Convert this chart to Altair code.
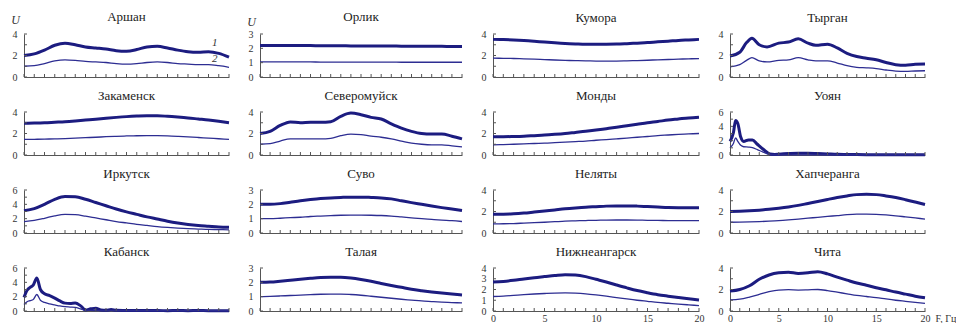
import altair as alt
import pandas as pd

# ---------------- data ----------------
F = list(range(21))

arshan_f = F
arshan_1 = [2.0, 2.15, 2.5, 2.95, 3.15, 3.0, 2.8, 2.7, 2.6, 2.45, 2.4, 2.55, 2.8, 2.85, 2.7, 2.5, 2.35, 2.3, 2.35, 2.2, 1.85]
arshan_2 = [1.0, 1.05, 1.25, 1.5, 1.6, 1.55, 1.45, 1.4, 1.35, 1.25, 1.2, 1.25, 1.35, 1.4, 1.35, 1.25, 1.2, 1.15, 1.15, 1.05, 0.9]

zakamensk_f = F
zakamensk_1 = [2.95, 2.97, 3.0, 3.05, 3.1, 3.17, 3.25, 3.33, 3.42, 3.5, 3.57, 3.62, 3.65, 3.65, 3.6, 3.53, 3.45, 3.35, 3.25, 3.13, 3.0]
zakamensk_2 = [1.45, 1.46, 1.48, 1.5, 1.53, 1.57, 1.61, 1.65, 1.7, 1.74, 1.77, 1.79, 1.8, 1.8, 1.78, 1.74, 1.69, 1.63, 1.57, 1.51, 1.45]

irkutsk_f = F
irkutsk_1 = [3.1, 3.4, 4.0, 4.7, 5.1, 5.05, 4.7, 4.25, 3.8, 3.35, 2.95, 2.6, 2.25, 1.95, 1.65, 1.4, 1.2, 1.05, 0.95, 0.85, 0.8]
irkutsk_2 = [1.6, 1.75, 2.05, 2.4, 2.6, 2.55, 2.35, 2.1, 1.85, 1.6, 1.4, 1.2, 1.05, 0.9, 0.78, 0.68, 0.6, 0.55, 0.5, 0.48, 0.45]

kabansk_f = [0, 0.3, 0.6, 0.9, 1.25, 1.6, 2.0, 2.5, 3.0, 3.5, 4.0, 4.5, 5.0, 5.5, 6.0, 6.5, 7.0, 7.5, 8.0, 8.5, 9, 10, 11, 12, 13, 14, 15, 16, 17, 18, 19, 20]
kabansk_1 = [1.9, 2.9, 3.3, 3.6, 4.6, 3.0, 2.4, 2.15, 1.8, 1.4, 1.1, 1.05, 1.1, 0.75, 0.15, 0.3, 0.4, 0.15, 0.1, 0.2, 0.1, 0.08, 0.06, 0.08, 0.06, 0.05, 0.06, 0.05, 0.06, 0.05, 0.05, 0.05]
kabansk_2 = [0.9, 1.3, 1.45, 1.6, 2.3, 1.5, 1.2, 1.0, 0.85, 0.7, 0.6, 0.55, 0.5, 0.3, 0.08, 0.08, 0.06, 0.05, 0.05, 0.05, 0.04, 0.04, 0.04, 0.04, 0.04, 0.04, 0.04, 0.04, 0.04, 0.04, 0.04, 0.04]

orlik_f = F
orlik_1 = [2.2, 2.2, 2.2, 2.2, 2.19, 2.19, 2.18, 2.18, 2.18, 2.17, 2.17, 2.16, 2.16, 2.16, 2.15, 2.15, 2.15, 2.14, 2.14, 2.13, 2.13]
orlik_2 = [1.05, 1.05, 1.05, 1.05, 1.05, 1.05, 1.04, 1.04, 1.04, 1.04, 1.04, 1.04, 1.04, 1.04, 1.03, 1.03, 1.03, 1.03, 1.03, 1.03, 1.03]

severomuysk_f = F
severomuysk_1 = [2.0, 2.2, 2.75, 3.08, 3.0, 3.05, 3.05, 3.1, 3.6, 3.9, 3.75, 3.5, 3.35, 2.9, 2.5, 2.2, 2.0, 1.95, 1.95, 1.75, 1.5]
severomuysk_2 = [1.0, 1.05, 1.3, 1.5, 1.5, 1.5, 1.5, 1.55, 1.8, 1.95, 1.9, 1.75, 1.65, 1.5, 1.3, 1.1, 1.0, 0.95, 0.95, 0.85, 0.75]

suvo_f = F
suvo_1 = [2.0, 2.0, 2.05, 2.15, 2.25, 2.33, 2.4, 2.45, 2.48, 2.5, 2.5, 2.48, 2.45, 2.38, 2.25, 2.12, 2.0, 1.88, 1.77, 1.67, 1.57]
suvo_2 = [1.0, 1.0, 1.03, 1.07, 1.1, 1.15, 1.18, 1.21, 1.24, 1.25, 1.25, 1.24, 1.22, 1.18, 1.12, 1.06, 1.0, 0.95, 0.9, 0.86, 0.8]

talaya_f = F
talaya_1 = [2.0, 2.02, 2.08, 2.15, 2.22, 2.28, 2.33, 2.35, 2.35, 2.3, 2.2, 2.07, 1.92, 1.78, 1.65, 1.52, 1.42, 1.33, 1.25, 1.18, 1.12]
talaya_2 = [1.0, 1.02, 1.05, 1.08, 1.11, 1.14, 1.17, 1.18, 1.18, 1.15, 1.1, 1.03, 0.96, 0.89, 0.82, 0.76, 0.7, 0.66, 0.62, 0.59, 0.56]

kumora_f = F
kumora_1 = [3.5, 3.48, 3.45, 3.4, 3.33, 3.25, 3.18, 3.12, 3.08, 3.05, 3.05, 3.05, 3.06, 3.1, 3.15, 3.2, 3.27, 3.33, 3.4, 3.45, 3.5]
kumora_2 = [1.75, 1.74, 1.72, 1.69, 1.66, 1.62, 1.58, 1.55, 1.52, 1.5, 1.48, 1.47, 1.48, 1.5, 1.53, 1.56, 1.6, 1.63, 1.66, 1.69, 1.71]

mondy_f = F
mondy_1 = [1.7, 1.7, 1.72, 1.75, 1.8, 1.85, 1.92, 2.0, 2.1, 2.2, 2.32, 2.45, 2.58, 2.72, 2.86, 3.0, 3.12, 3.25, 3.35, 3.45, 3.52]
mondy_2 = [0.95, 0.97, 1.0, 1.03, 1.07, 1.1, 1.15, 1.2, 1.25, 1.3, 1.37, 1.43, 1.5, 1.57, 1.65, 1.72, 1.8, 1.86, 1.92, 1.97, 2.0]

nelyaty_f = F
nelyaty_1 = [1.75, 1.75, 1.78, 1.85, 1.95, 2.05, 2.15, 2.25, 2.33, 2.4, 2.45, 2.5, 2.52, 2.52, 2.5, 2.46, 2.42, 2.38, 2.36, 2.35, 2.35]
nelyaty_2 = [0.85, 0.86, 0.88, 0.92, 0.96, 1.0, 1.05, 1.1, 1.13, 1.16, 1.18, 1.2, 1.21, 1.21, 1.2, 1.18, 1.17, 1.16, 1.15, 1.15, 1.15]

nizhneangarsk_f = F
nizhneangarsk_1 = [2.7, 2.75, 2.85, 2.98, 3.1, 3.2, 3.3, 3.38, 3.35, 3.2, 2.95, 2.7, 2.42, 2.15, 1.9, 1.7, 1.52, 1.38, 1.25, 1.13, 1.03]
nizhneangarsk_2 = [1.35, 1.38, 1.45, 1.52, 1.58, 1.63, 1.67, 1.68, 1.66, 1.6, 1.5, 1.38, 1.25, 1.12, 1.0, 0.9, 0.8, 0.72, 0.64, 0.57, 0.5]

tyrgan_f = [0, 1, 1.7, 2.25, 3, 3.8, 5, 6, 7, 8, 8.8, 10, 11, 12, 13, 14, 15, 16, 17, 18, 19, 20]
tyrgan_1 = [1.95, 2.3, 3.2, 3.6, 3.0, 2.8, 3.15, 3.25, 3.55, 3.15, 2.95, 3.05, 2.7, 2.2, 1.9, 1.75, 1.6, 1.35, 1.15, 1.1, 1.18, 1.2]
tyrgan_2 = [0.95, 1.15, 1.55, 1.8, 1.5, 1.4, 1.55, 1.6, 1.8, 1.6, 1.5, 1.5, 1.3, 1.05, 0.9, 0.85, 0.78, 0.65, 0.55, 0.52, 0.56, 0.58]

uoyan_f = [0, 0.35, 0.57, 0.8, 1.1, 1.4, 1.9, 2.3, 2.8, 3.4, 4.1, 4.6, 5, 6, 7, 8, 9, 10, 11, 12, 13, 14, 15, 16, 17, 18, 19, 20]
uoyan_1 = [1.9, 3.1, 4.8, 4.4, 2.5, 1.9, 2.1, 2.1, 1.5, 0.8, 0.15, 0.08, 0.12, 0.2, 0.25, 0.25, 0.2, 0.15, 0.1, 0.08, 0.06, 0.05, 0.05, 0.05, 0.05, 0.05, 0.05, 0.05]
uoyan_2 = [1.0, 1.6, 2.4, 1.9, 1.35, 1.15, 1.1, 1.02, 0.75, 0.4, 0.06, 0.03, 0.03, 0.03, 0.03, 0.03, 0.03, 0.03, 0.03, 0.03, 0.03, 0.03, 0.03, 0.03, 0.03, 0.03, 0.03, 0.03]

khapcheranga_f = F
khapcheranga_1 = [2.0, 2.02, 2.06, 2.12, 2.2, 2.3, 2.42, 2.57, 2.75, 2.93, 3.12, 3.3, 3.45, 3.57, 3.6, 3.57, 3.45, 3.3, 3.1, 2.88, 2.65]
khapcheranga_2 = [1.0, 1.01, 1.03, 1.06, 1.1, 1.15, 1.22, 1.3, 1.38, 1.46, 1.54, 1.62, 1.7, 1.75, 1.76, 1.74, 1.68, 1.6, 1.5, 1.4, 1.3]

chita_f = F
chita_1 = [1.85, 2.0, 2.35, 2.95, 3.35, 3.55, 3.6, 3.5, 3.55, 3.65, 3.45, 3.15, 2.87, 2.6, 2.4, 2.17, 1.97, 1.76, 1.57, 1.38, 1.24]
chita_2 = [1.03, 1.1, 1.3, 1.55, 1.8, 1.95, 1.98, 1.95, 1.97, 2.0, 1.9, 1.75, 1.6, 1.45, 1.35, 1.25, 1.12, 1.0, 0.9, 0.8, 0.7]

# panel order (row-major, 4 columns)
names = ["Аршан", "Орлик", "Кумора", "Тырган",
         "Закаменск", "Северомуйск", "Монды", "Уоян",
         "Иркутск", "Суво", "Неляты", "Хапчеранга",
         "Кабанск", "Талая", "Нижнеангарск", "Чита"]
series = [
    (arshan_f, arshan_1, arshan_2), (orlik_f, orlik_1, orlik_2),
    (kumora_f, kumora_1, kumora_2), (tyrgan_f, tyrgan_1, tyrgan_2),
    (zakamensk_f, zakamensk_1, zakamensk_2), (severomuysk_f, severomuysk_1, severomuysk_2),
    (mondy_f, mondy_1, mondy_2), (uoyan_f, uoyan_1, uoyan_2),
    (irkutsk_f, irkutsk_1, irkutsk_2), (suvo_f, suvo_1, suvo_2),
    (nelyaty_f, nelyaty_1, nelyaty_2), (khapcheranga_f, khapcheranga_1, khapcheranga_2),
    (kabansk_f, kabansk_1, kabansk_2), (talaya_f, talaya_1, talaya_2),
    (nizhneangarsk_f, nizhneangarsk_1, nizhneangarsk_2), (chita_f, chita_1, chita_2),
]
y_max = [4, 3, 4, 4,
         4, 4, 4, 6,
         6, 3, 4, 4,
         6, 3, 4, 4]
y_labels = {3: [0, 1, 2, 3], 4: [0, 2, 4], 6: [0, 2, 4, 6]}
nizh_labels = [0, 1, 2, 3, 4]
x_labels = [0, 5, 10, 15, 20]
x_ticks = list(range(21))
curve_ids = ["1", "2"]
curve_label_f = [18.6, 18.6]
curve_label_u = [3.15, 1.7]

# ---------------- style ----------------
SERIF = "'Liberation Serif', 'Times New Roman', 'DejaVu Serif', serif"
C1 = "#1c1c80"
C2 = "#2d2d92"
AX = "#555555"
TXT = "#333333"
H = 43
WIDTHS = [205, 202, 206, 195]


def panel(i):
    name = names[i]
    f, u1, u2 = series[i]
    ymax = y_max[i]
    col = i % 4
    row = i // 4
    w = WIDTHS[col]
    yvals = nizh_labels if name == "Нижнеангарск" else y_labels[ymax]
    show_xl = row == 3 and col >= 2
    show_u = row == 0 and col <= 1

    xscale = alt.Scale(domain=[0, 20], nice=False)
    yscale = alt.Scale(domain=[0, ymax], nice=False)

    xaxis_kw = dict(values=x_labels, labels=show_xl, ticks=False, grid=False,
                    domainColor=AX, labelPadding=2)
    if name == "Чита":
        xaxis_kw.update(title="F, Гц", titleX=w + 10, titleY=2, titleAngle=0, titleAlign="left",
                        titleBaseline="top")
    else:
        xaxis_kw.update(title=None)
    yaxis_kw = dict(values=yvals, ticks=False, grid=False, domainColor=AX, labelPadding=7)
    if show_u:
        yaxis_kw.update(title="U", titleAngle=0, titleX=-9, titleY=(-8 if col == 0 else -6),
                        titleAlign="center", titleBaseline="bottom", titleFontSize=12,
                        titleFontStyle="italic")
    else:
        yaxis_kw.update(title=None)
    xax = alt.Axis(**xaxis_kw)
    yax = alt.Axis(**yaxis_kw)

    d = pd.DataFrame({
        "F": list(f) + list(f),
        "U": list(u1) + list(u2),
        "curve": ["1"] * len(f) + ["2"] * len(f),
    })

    lines = alt.Chart(d).mark_line(interpolate="monotone").encode(
        x=alt.X("F:Q", scale=xscale, axis=xax),
        y=alt.Y("U:Q", scale=yscale, axis=yax),
        detail="curve:N",
        color=alt.Color("curve:N", scale=alt.Scale(domain=curve_ids, range=[C1, C2]), legend=None),
        strokeWidth=alt.StrokeWidth("curve:N", scale=alt.Scale(domain=curve_ids, range=[3, 1.3]), legend=None),
    )
    xt = alt.Chart(pd.DataFrame({"F": x_ticks})).mark_rule(color=AX, strokeWidth=1).encode(
        x=alt.X("F:Q", scale=xscale, axis=xax),
        y=alt.value(H), y2=alt.value(H - 3),
    )
    yt = alt.Chart(pd.DataFrame({"U": list(range(ymax + 1))})).mark_rule(color=AX, strokeWidth=1).encode(
        y=alt.Y("U:Q", scale=yscale, axis=yax),
        x=alt.value(0), x2=alt.value(3),
    )
    layers = [lines, xt, yt]
    if name == "Аршан":
        lab = alt.Chart(pd.DataFrame({"F": curve_label_f, "U": curve_label_u, "t": curve_ids})).mark_text(
            font=SERIF, fontSize=11, fontStyle="italic", color=TXT, baseline="middle", align="center"
        ).encode(
            x=alt.X("F:Q", scale=xscale, axis=xax),
            y=alt.Y("U:Q", scale=yscale, axis=yax),
            text="t:N",
        )
        layers.append(lab)
    if show_u:
        off = -11 if col == 0 else -9
    else:
        off = 4
    return alt.layer(*layers).properties(
        width=w, height=H,
        title=alt.TitleParams(text=name, offset=off, frame="group", anchor="middle"),
    )


chart = alt.concat(
    *[panel(i) for i in range(16)],
    columns=4,
    spacing={"row": 35, "column": 31},
    bounds="flush",
    align="each",
).properties(
    padding={"left": 2, "top": 3, "right": 0, "bottom": 0},
    background="white",
).configure_view(
    strokeWidth=0
).configure_axis(
    labelFont=SERIF, labelFontSize=10, labelColor=TXT, titleFont=SERIF, titleFontSize=10,
    titleFontWeight="normal", titleColor=TXT, labelFlush=False
).configure_title(
    font=SERIF, fontSize=13, fontWeight="normal", color="#222222"
)

chart.save("out.html", embed_options={"renderer": "svg", "actions": False})
